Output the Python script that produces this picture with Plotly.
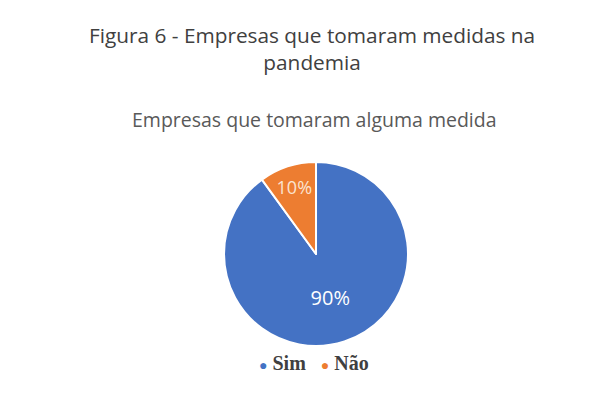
import plotly.graph_objects as go

labels = ["Sim", "Não"]
values = [90, 10]
colors = ["#4472C4", "#ED7D31"]
title_text = "Figura 6 - Empresas que tomaram medidas na<br>pandemia"
subtitle_text = "Empresas que tomaram alguma medida"

fig = go.Figure(go.Pie(
    labels=labels,
    values=values,
    sort=False,
    direction="clockwise",
    rotation=0,
    marker=dict(colors=colors, line=dict(color="#FFFFFF", width=2)),
    textinfo="percent",
    textposition="inside",
    insidetextorientation="horizontal",
    textfont=dict(family="Open Sans", size=[20, 18], color=["#FFFFFF", "#FBE3D0"]),
    domain=dict(x=[0.3666, 0.6678], y=[0.1263, 0.5909]),
    hoverinfo="label+percent",
    showlegend=False,
))

# legend built from labels/colors as a single text line
legend_text = "   ".join(
    f"<span style='color:{c};font-size:14px'>●</span> <b>{l}</b>"
    for l, c in zip(labels, colors)
)

fig.update_layout(
    width=611, height=396,
    margin=dict(l=0, r=0, t=0, b=0),
    paper_bgcolor="#FFFFFF",
    plot_bgcolor="#FFFFFF",
    annotations=[
        dict(
            text=title_text,
            x=0.51, xref="paper", xanchor="center",
            y=1 - 49 / 396, yref="paper", yanchor="middle",
            showarrow=False,
            font=dict(family="Open Sans", size=20.8, color="#404040"),
        ),
        dict(
            text=subtitle_text,
            x=0.514, xref="paper", xanchor="center",
            y=1 - 119 / 396, yref="paper", yanchor="middle",
            showarrow=False,
            font=dict(family="Open Sans", size=19.5, color="#595959"),
        ),
        dict(
            text=legend_text,
            x=314 / 611, xref="paper", xanchor="center",
            y=1 - 363 / 396, yref="paper", yanchor="middle",
            showarrow=False,
            font=dict(family="Liberation Serif", size=20, color="#404040"),
        ),
    ],
)

fig.write_html("out.html")
